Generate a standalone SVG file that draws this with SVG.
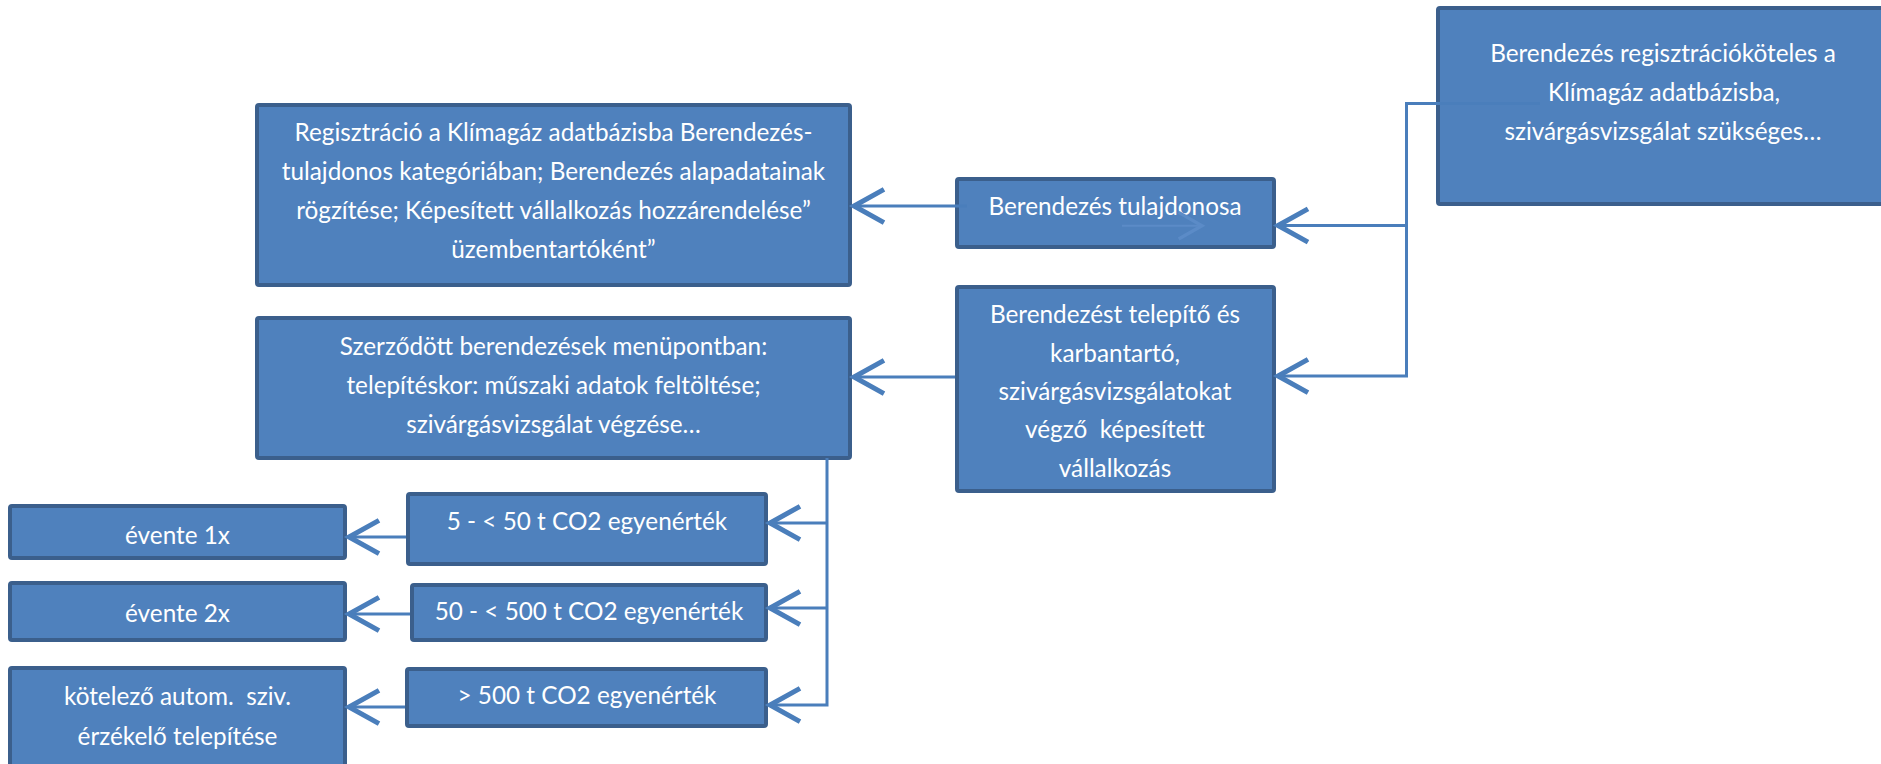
<svg xmlns="http://www.w3.org/2000/svg" width="1881" height="764" viewBox="0 0 1881 764">
<style>
.box{fill:#4f81bd;stroke:#3b5f8c;stroke-width:4}
.t{fill:#ffffff;font-family:Lato,"Open Sans","Liberation Sans",sans-serif;font-size:24.3px;text-anchor:middle}
.c{fill:none;stroke:#4a7ebb;stroke-width:3}
.f{fill:none;stroke:#5b8bc7;stroke-width:2}
</style>
<defs>
<marker id="ah" markerUnits="userSpaceOnUse" markerWidth="40" markerHeight="40" viewBox="-20 -12 24 24" refX="0" refY="0" orient="auto" overflow="visible">
<path d="M-18,-10 L0,0 L-18,10" fill="none" stroke="#4a7ebb" stroke-width="3"/>
</marker>
<marker id="ahf" markerUnits="userSpaceOnUse" markerWidth="40" markerHeight="40" viewBox="-20 -12 24 24" refX="0" refY="0" orient="auto" overflow="visible">
<path d="M-14,-8 L0,0 L-14,8" fill="none" stroke="#5b8bc7" stroke-width="2"/>
</marker>
</defs>
<rect width="1881" height="764" fill="#ffffff"/>
<g id="n-regkoteles">
<rect class="box" x="1438" y="8" width="460" height="196" rx="2"/>
<text class="t" x="1663" y="62">Berendezés regisztrációköteles a</text>
<text class="t" x="1664" y="101">Klímagáz adatbázisba,</text>
<text class="t" x="1663" y="140">szivárgásvizsgálat szükséges…</text>
</g>
<g id="n-regisztracio">
<rect class="box" x="257" y="105" width="593" height="180" rx="2"/>
<text class="t" x="553.5" y="141">Regisztráció a Klímagáz adatbázisba Berendezés-</text>
<text class="t" x="553.5" y="180">tulajdonos kategóriában; Berendezés alapadatainak</text>
<text class="t" x="553.5" y="219">rögzítése; Képesített vállalkozás hozzárendelése”</text>
<text class="t" x="553.5" y="258">üzembentartóként”</text>
</g>
<g id="n-tulajdonos">
<rect class="box" x="957" y="179" width="317" height="68" rx="2"/>
<text class="t" x="1115" y="215">Berendezés tulajdonosa</text>
</g>
<g id="n-telepito">
<rect class="box" x="957" y="287" width="317" height="204" rx="2"/>
<text class="t" x="1115" y="323">Berendezést telepítő és</text>
<text class="t" x="1115" y="362">karbantartó,</text>
<text class="t" x="1115" y="400">szivárgásvizsgálatokat</text>
<text class="t" x="1115" y="438" xml:space="preserve">végző  képesített</text>
<text class="t" x="1115" y="477">vállalkozás</text>
</g>
<g id="n-szerzodott">
<rect class="box" x="257" y="318" width="593" height="140" rx="2"/>
<text class="t" x="553.5" y="355">Szerződött berendezések menüpontban:</text>
<text class="t" x="553.5" y="394">telepítéskor: műszaki adatok feltöltése;</text>
<text class="t" x="553.5" y="433">szivárgásvizsgálat végzése…</text>
</g>
<g id="n-5-50">
<rect class="box" x="408" y="494" width="358" height="70" rx="2"/>
<text class="t" x="587" y="530">5 - &lt; 50 t CO2 egyenérték</text>
</g>
<g id="n-50-500">
<rect class="box" x="412" y="585" width="354" height="55" rx="2"/>
<text class="t" x="589" y="620">50 - &lt; 500 t CO2 egyenérték</text>
</g>
<g id="n-500">
<rect class="box" x="407" y="669" width="359" height="57" rx="2"/>
<text class="t" x="587" y="704">&gt; 500 t CO2 egyenérték</text>
</g>
<g id="n-evente1">
<rect class="box" x="10" y="506" width="335" height="52" rx="2"/>
<text class="t" x="177.5" y="544">évente 1x</text>
</g>
<g id="n-evente2">
<rect class="box" x="10" y="583" width="335" height="57" rx="2"/>
<text class="t" x="177.5" y="622">évente 2x</text>
</g>
<g id="n-kotelezo">
<rect class="box" x="10" y="668" width="335" height="110" rx="2"/>
<text class="t" x="177.5" y="705" xml:space="preserve">kötelező autom.  sziv.</text>
<text class="t" x="177.5" y="745">érzékelő telepítése</text>
</g>
<g id="connectors">
<path class="c" d="M1540,103.5 H1406.5 V376 H1278" marker-end="url(#ah)"/>
<path class="c" d="M1406.5,225.5 H1278" marker-end="url(#ah)"/>
<path class="c" d="M967,206 H854" marker-end="url(#ah)"/>
<path class="c" d="M955,377 H854" marker-end="url(#ah)"/>
<path class="c" d="M827,458 V705 H770" marker-end="url(#ah)"/>
<path class="c" d="M827,523 H770" marker-end="url(#ah)"/>
<path class="c" d="M827,608 H770" marker-end="url(#ah)"/>
<path class="c" d="M406,537 H349" marker-end="url(#ah)"/>
<path class="c" d="M410,614 H349" marker-end="url(#ah)"/>
<path class="c" d="M405,707 H349" marker-end="url(#ah)"/>
<path class="f" d="M1122,225.7 H1202" marker-end="url(#ahf)"/>
</g>
</svg>
